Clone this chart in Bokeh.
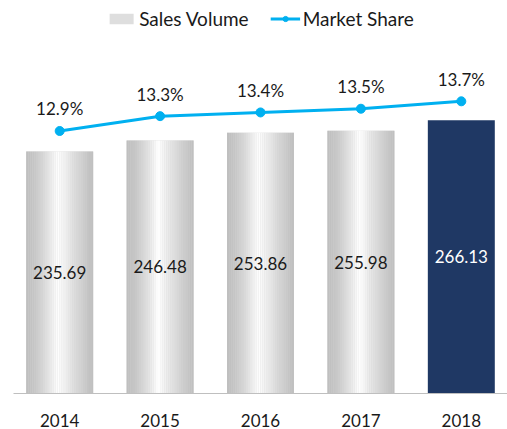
from bokeh.plotting import figure
from bokeh.models import FactorRange, Range1d, ColumnDataSource, Legend, LegendItem
from bokeh.transform import dodge
from bokeh.core.properties import value
from bokeh.embed import file_html
from bokeh.resources import INLINE

# ---- data ----
years = ["2014", "2015", "2016", "2017", "2018"]
sales_volume = [235.69, 246.48, 253.86, 255.98, 266.13]
market_share = [12.9, 13.3, 13.4, 13.5, 13.7]
highlight_year = "2018"

FONT = "Lato"
FS = "17px"
TXT = "#1a1a1a"
BAR_W = 0.667
N_STRIPS = 32
DARK = "#1F3864"
BLUE = "#00B0F0"

p = figure(x_range=FactorRange(*years, range_padding=-0.04, range_padding_units="absolute"),
           y_range=Range1d(0, 382.7),
           width=507, height=429, output_backend="svg", toolbar_location=None,
           y_axis_location=None, min_border_left=13, min_border_right=0,
           min_border_top=0, min_border_bottom=35)
p.extra_y_ranges = {"share": Range1d(5.825, 16.417)}
p.xgrid.visible = False
p.ygrid.visible = False
p.outline_line_color = None
p.background_fill_color = "white"
p.border_fill_color = "white"

gy = [y for y in years if y != highlight_year]
gv = [v for y, v in zip(years, sales_volume) if y != highlight_year]
src_gray = ColumnDataSource(dict(x=gy, top=gv, mid=[v / 2 for v in gv],
                                 label=[f"{v:.2f}" for v in gv]))
hv = [v for y, v in zip(years, sales_volume) if y == highlight_year]
hy = [y for y in years if y == highlight_year]
src_hi = ColumnDataSource(dict(x=hy, top=hv, mid=[v / 2 for v in hv],
                               label=[f"{v:.2f}" for v in hv]))


def shade(t):
    peak = 0.47
    if t < peak:
        f = (t / peak) ** 1.6
    else:
        f = ((1 - t) / (1 - peak)) ** 1.2
    g = int(round(191 + 64 * f))
    return "#%02x%02x%02x" % (g, g, g)


# base under the strips
p.vbar(x="x", top="top", bottom=0, width=BAR_W, source=src_gray,
       fill_color="#d6d6d6", line_color=None)
sw = BAR_W / N_STRIPS
legend_strip = None
for i in range(N_STRIPS):
    t = (i + 0.5) / N_STRIPS
    off = -BAR_W / 2 + (i + 0.5) * sw
    r = p.vbar(x=dodge("x", off, range=p.x_range), top="top", bottom=0,
               width=sw, source=src_gray, fill_color=shade(t), line_color=None)
    if i == 9:
        legend_strip = r

p.vbar(x="x", top="top", bottom=0, width=BAR_W, source=src_hi,
       fill_color=DARK, line_color=None)

p.text(x="x", y="mid", text="label", source=src_gray, text_align="center",
       text_baseline="middle", text_font=value(FONT), text_font_size=FS,
       text_color=TXT)
p.text(x="x", y="mid", text="label", source=src_hi, text_align="center",
       text_baseline="middle", text_font=value(FONT), text_font_size=FS,
       text_color="white")

src_line = ColumnDataSource(dict(x=years, y=market_share,
                                 label=[f"{v:.1f}%" for v in market_share]))
line_r = p.line(x="x", y="y", source=src_line, y_range_name="share",
                line_color=BLUE, line_width=3)
scat_r = p.scatter(x="x", y="y", source=src_line, y_range_name="share",
                   size=9, fill_color=BLUE, line_color=BLUE)
p.text(x="x", y="y", text="label", source=src_line, y_range_name="share",
       y_offset=-22, text_align="center", text_baseline="middle",
       text_font=value(FONT), text_font_size=FS, text_color=TXT)

ax = p.xaxis[0]
ax.major_tick_line_color = None
ax.minor_tick_line_color = None
ax.axis_line_color = "#bfbfbf"
ax.axis_line_width = 1
ax.major_label_text_font = FONT
ax.major_label_text_font_size = FS
ax.major_label_text_color = TXT
ax.major_label_standoff = 14

legend = Legend(items=[LegendItem(label="Sales Volume", renderers=[legend_strip]),
                       LegendItem(label="Market Share", renderers=[line_r, scat_r])],
                location="top_center", orientation="horizontal",
                background_fill_alpha=0, border_line_alpha=0,
                label_text_font=FONT, label_text_font_size="19px",
                label_text_color=TXT, glyph_width=30, glyph_height=13,
                label_standoff=3, spacing=21, padding=0, margin=7)
p.add_layout(legend)

open("out.html", "w").write(file_html(p, INLINE))
